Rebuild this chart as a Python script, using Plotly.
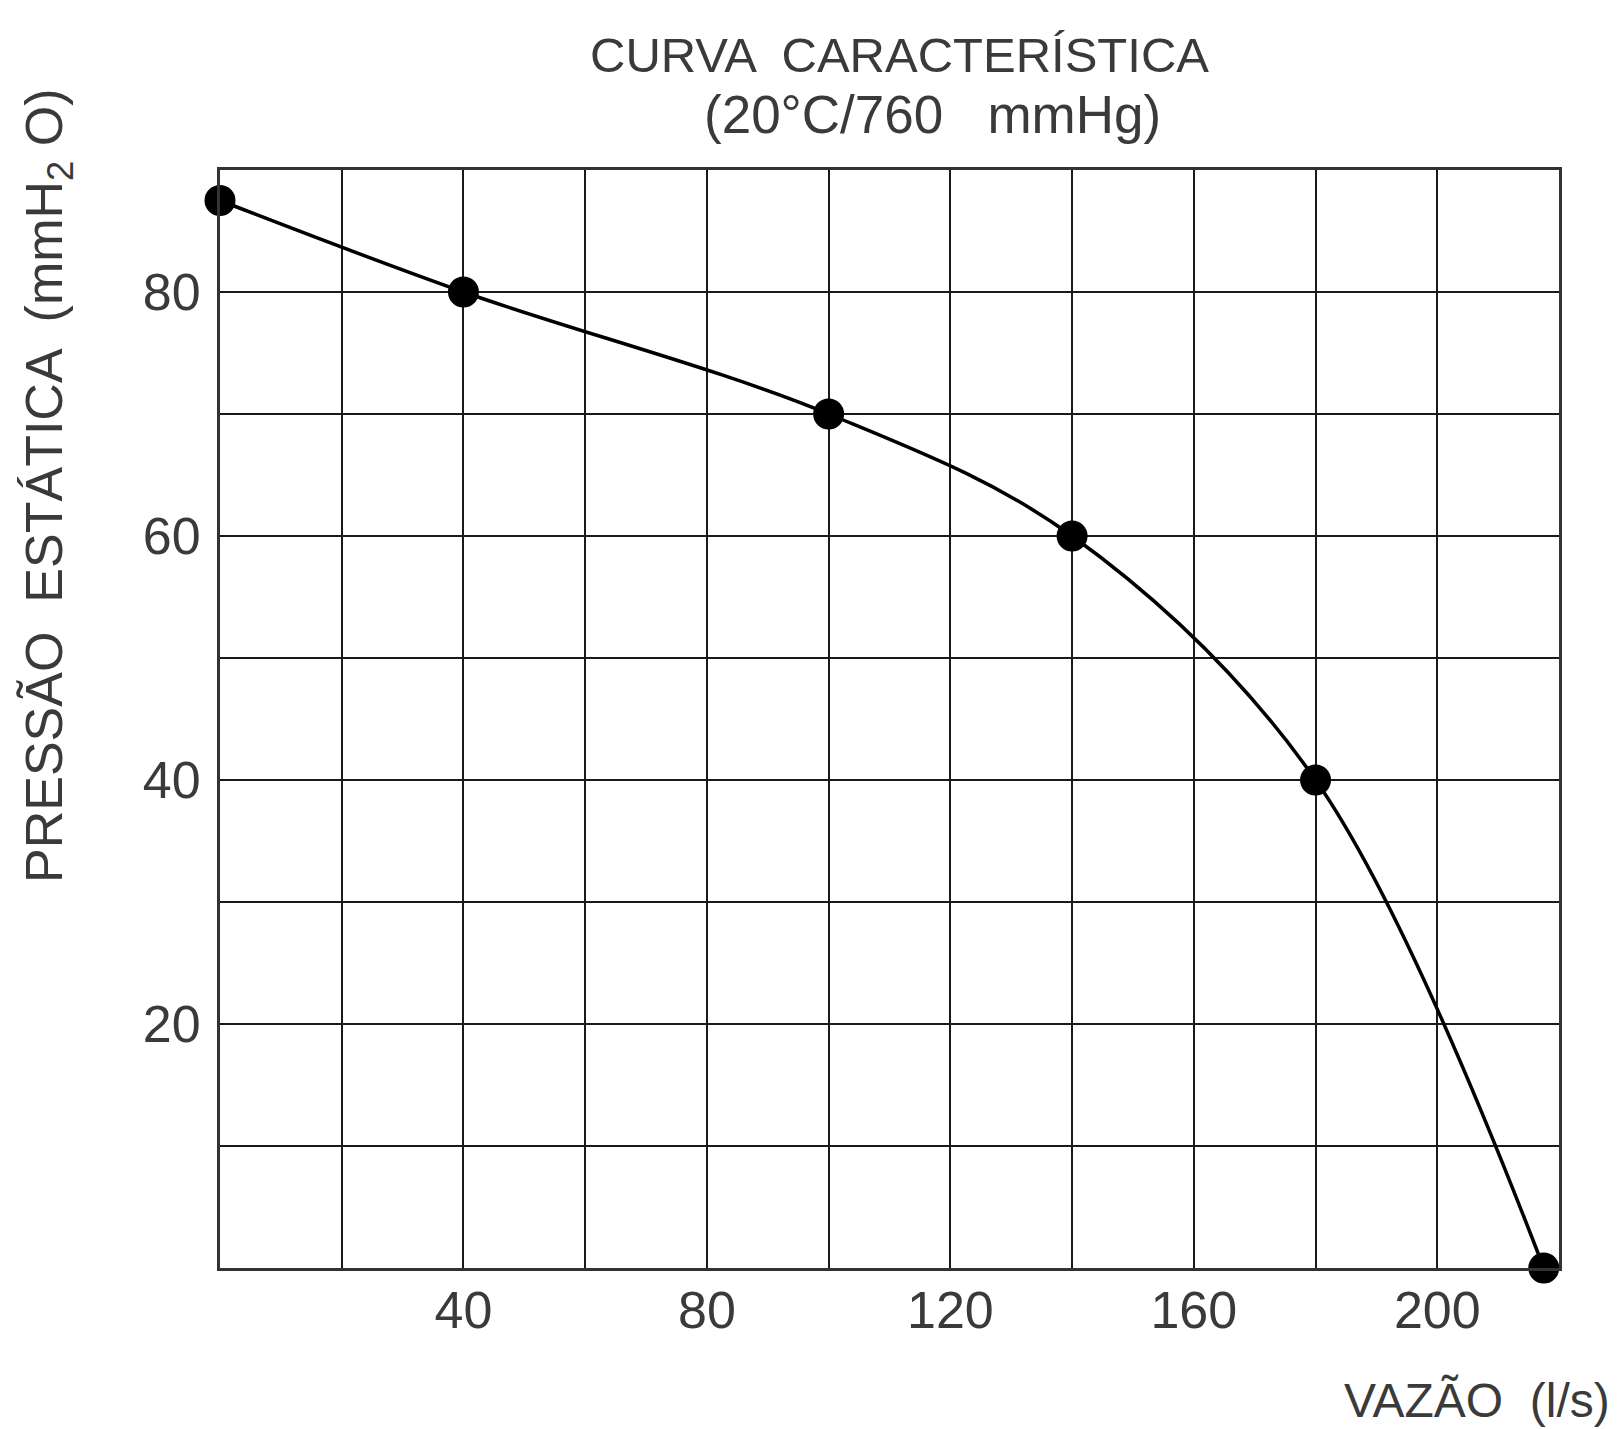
import plotly.graph_objects as go

# Data
vazao = [0, 40, 100, 140, 180, 217.5]        # l/s
pressao = [87.5, 80, 70, 60, 40, 0]           # mmH2O

x_tickvals = [40, 80, 120, 160, 200]
x_ticktext = ["40", "80", "120", "160", "200"]
x_minor = [20, 60, 100, 140, 180, 220]
y_tickvals = [20, 40, 60, 80]
y_ticktext = ["20", "40", "60", "80"]
y_minor = [10, 30, 50, 70, 90]

FONT = "Liberation Sans, Arial, sans-serif"
TXT = "#3a3a3a"
GRID = "#1a1a1a"

fig = go.Figure()
fig.add_trace(go.Scatter(
    x=vazao, y=pressao, mode="lines+markers",
    line=dict(color="black", width=3.5, shape="spline", smoothing=1.0),
    marker=dict(color="black", size=31),
    showlegend=False, cliponaxis=False,
))

L, R, T, B = 212, 1551, 162, 1260
W, H = 1618, 1429
pw, ph = R - L, B - T

def px(x):
    return (x - L) / pw

def py(y):
    return (B - y) / ph

fig.update_layout(
    width=W, height=H,
    margin=dict(l=L, r=W - R, t=T, b=H - B, pad=0),
    paper_bgcolor="white", plot_bgcolor="white",
    font=dict(family=FONT, color=TXT, size=50),
    xaxis=dict(
        range=[0, 220], tickmode="array", tickvals=x_tickvals, ticktext=x_ticktext,
        showgrid=True, gridcolor=GRID, gridwidth=1.8,
        minor=dict(tickmode="array", tickvals=x_minor, showgrid=True,
                   gridcolor=GRID, gridwidth=1.8, ticks=""),
        showline=True, linecolor="#333", linewidth=3, mirror=True,
        ticks="", ticklabelstandoff=-5, zeroline=False,
        tickfont=dict(family=FONT, size=52, color=TXT),
    ),
    yaxis=dict(
        range=[0, 90], tickmode="array", tickvals=y_tickvals, ticktext=y_ticktext,
        showgrid=True, gridcolor=GRID, gridwidth=1.8,
        minor=dict(tickmode="array", tickvals=y_minor, showgrid=True,
                   gridcolor=GRID, gridwidth=1.8, ticks=""),
        showline=True, linecolor="#333", linewidth=3, mirror=True,
        ticks="", ticklabelstandoff=6, zeroline=False,
        tickfont=dict(family=FONT, size=52, color=TXT),
    ),
    annotations=[
        dict(text="CURVA  CARACTERÍSTICA", x=px(892), y=py(47), xref="paper", yref="paper",
             showarrow=False, xanchor="center", yanchor="middle",
             font=dict(family=FONT, size=49, color=TXT)),
        dict(text="(20°C/760   mmHg)", x=px(925), y=py(106), xref="paper", yref="paper",
             showarrow=False, xanchor="center", yanchor="middle",
             font=dict(family=FONT, size=53, color=TXT)),
        dict(text="PRESSÃO  ESTÁTICA  (mmH<sub>2</sub> O)", x=px(40), y=py(478),
             xref="paper", yref="paper", textangle=-90,
             showarrow=False, xanchor="center", yanchor="middle",
             font=dict(family=FONT, size=52, color=TXT)),
        dict(text="VAZÃO  (l/s)", x=px(1604), y=py(1392), xref="paper", yref="paper",
             showarrow=False, xanchor="right", yanchor="middle",
             font=dict(family=FONT, size=48, color=TXT)),
    ],
)

fig.write_html("out.html")
